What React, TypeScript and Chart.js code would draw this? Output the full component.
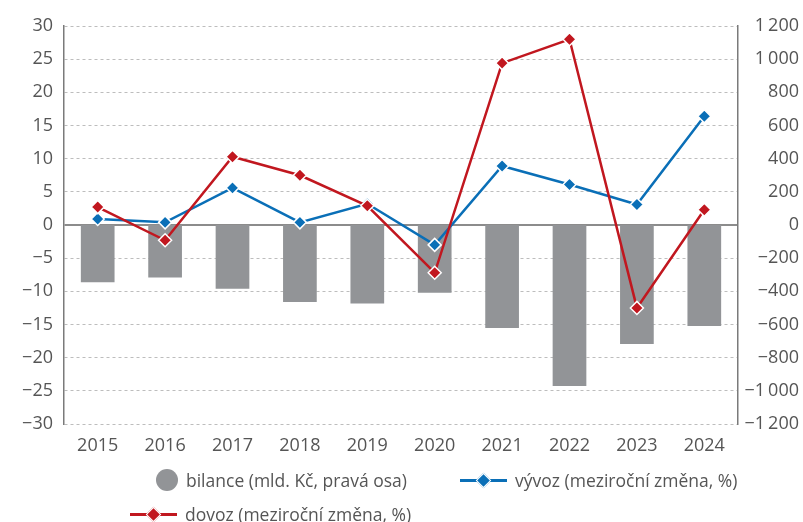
import React, { useEffect, useRef } from "react";
import { Chart, registerables } from "chart.js";

Chart.register(...registerables);

const categories = ["2015", "2016", "2017", "2018", "2019", "2020", "2021", "2022", "2023", "2024"];
const bilance = [-345, -317, -384, -464, -474, -408, -621, -971, -718, -609];
const vyvoz = [0.9, 0.4, 5.6, 0.4, 3.2, -3.0, 8.9, 6.1, 3.1, 16.4];
const dovoz = [2.7, -2.3, 10.3, 7.5, 2.9, -7.2, 24.4, 28.0, -12.5, 2.3];

const leftTicks = { min: -30, max: 30, step: 5 };
const rightTicks = { min: -1200, max: 1200, step: 200 };

const labelBilance = "bilance (mld. Kč, pravá osa)";
const labelVyvoz = "vývoz (meziroční změna, %)";
const labelDovoz = "dovoz (meziroční změna, %)";

const GRAY = "#929497";
const BLUE = "#0a6fb7";
const RED = "#c1171f";
const TEXT = "#555555";
const FONT = "'Open Sans', 'Noto Sans', sans-serif";

function fmt(v: number): string {
  const a = Math.abs(v);
  let s = String(a);
  if (a >= 1000) s = s.slice(0, s.length - 3) + "\u2009" + s.slice(s.length - 3);
  return (v < 0 ? "\u2212" : "") + s;
}

function LegendLine({ color }: { color: string }) {
  return (
    <span style={{ position: "relative", display: "inline-block", width: 47, height: 14, marginRight: 8 }}>
      <span style={{ position: "absolute", left: 0, top: 6, width: 47, height: 3, background: color }} />
      <span
        style={{
          position: "absolute",
          left: 18,
          top: 2,
          width: 9,
          height: 9,
          background: color,
          border: "1px solid #fff",
          transform: "rotate(45deg)",
        }}
      />
    </span>
  );
}

export default function App() {
  const ref = useRef<HTMLCanvasElement | null>(null);

  useEffect(() => {
    if (!ref.current) return;
    const chart = new Chart(ref.current, {
      data: {
        labels: categories,
        datasets: [
          {
            type: "line",
            label: labelDovoz,
            data: dovoz,
            yAxisID: "y",
            borderColor: RED,
            backgroundColor: RED,
            borderWidth: 2.5,
            pointStyle: "rectRot",
            pointRadius: 6.5,
            pointBorderColor: "#fff",
            pointBorderWidth: 1.5,
            pointBackgroundColor: RED,
            tension: 0,
            order: 0,
          },
          {
            type: "line",
            label: labelVyvoz,
            data: vyvoz,
            yAxisID: "y",
            borderColor: BLUE,
            backgroundColor: BLUE,
            borderWidth: 2.5,
            pointStyle: "rectRot",
            pointRadius: 6.5,
            pointBorderColor: "#fff",
            pointBorderWidth: 1.5,
            pointBackgroundColor: BLUE,
            tension: 0,
            order: 1,
          },
          {
            type: "bar",
            label: labelBilance,
            data: bilance,
            yAxisID: "y2",
            backgroundColor: GRAY,
            categoryPercentage: 1,
            barPercentage: 0.5,
            order: 2,
          },
        ],
      },
      options: {
        responsive: false,
        animation: false,
        layout: { padding: { top: 26, right: 4, left: 0, bottom: 0 } },
        plugins: { legend: { display: false }, tooltip: { enabled: false } },
        scales: {
          x: {
            grid: { display: false, drawTicks: false },
            border: { display: false },
            ticks: { color: TEXT, font: { family: FONT, size: 18 }, padding: 11 },
            afterFit: (s: any) => {
              s.height = 98;
            },
          },
          y: {
            position: "left",
            min: leftTicks.min,
            max: leftTicks.max,
            ticks: {
              stepSize: leftTicks.step,
              color: TEXT,
              font: { family: FONT, size: 18 },
              padding: 11,
              callback: (v: any) => fmt(Number(v)),
            },
            grid: {
              drawTicks: false,
              color: (c: any) => (c.tick && c.tick.value === 0 ? "#8c8c8c" : "#bdbdbd"),
              lineWidth: (c: any) => (c.tick && c.tick.value === 0 ? 2 : 1),
            },
            border: {
              display: true,
              color: "#7a7a7a",
              width: 1.5,
              dash: (c: any) => (c.tick && c.tick.value === 0 ? [] : [3, 3]),
            },
            afterFit: (s: any) => {
              s.width = 64;
            },
          },
          y2: {
            position: "right",
            min: rightTicks.min,
            max: rightTicks.max,
            ticks: {
              stepSize: rightTicks.step,
              color: TEXT,
              font: { family: FONT, size: 18 },
              padding: 10,
              crossAlign: "far",
              callback: (v: any) => fmt(Number(v)),
            },
            grid: { display: false, drawTicks: false },
            border: { display: true, color: "#7a7a7a", width: 1.5 },
            afterFit: (s: any) => {
              s.width = 61;
            },
          },
        },
      },
    } as any);
    return () => chart.destroy();
  }, []);

  const legendText: React.CSSProperties = {
    fontFamily: FONT,
    fontSize: 17.5,
    lineHeight: "22px",
    color: TEXT,
    whiteSpace: "nowrap",
  };

  return (
    <div style={{ position: "fixed", left: 0, top: 0, width: 803, height: 522, background: "#fff" }}>
      <canvas ref={ref} width={803} height={522} style={{ width: 803, height: 522, display: "block" }} />
      <div style={{ position: "absolute", left: 156, top: 469, display: "flex", alignItems: "center", ...legendText }}>
        <span
          style={{ display: "inline-block", width: 22, height: 22, borderRadius: "50%", background: GRAY, marginRight: 8 }}
        />
        <span>{labelBilance}</span>
      </div>
      <div style={{ position: "absolute", left: 460, top: 469, display: "flex", alignItems: "center", ...legendText }}>
        <LegendLine color={BLUE} />
        <span>{labelVyvoz}</span>
      </div>
      <div style={{ position: "absolute", left: 130, top: 503, display: "flex", alignItems: "center", ...legendText }}>
        <LegendLine color={RED} />
        <span>{labelDovoz}</span>
      </div>
    </div>
  );
}
